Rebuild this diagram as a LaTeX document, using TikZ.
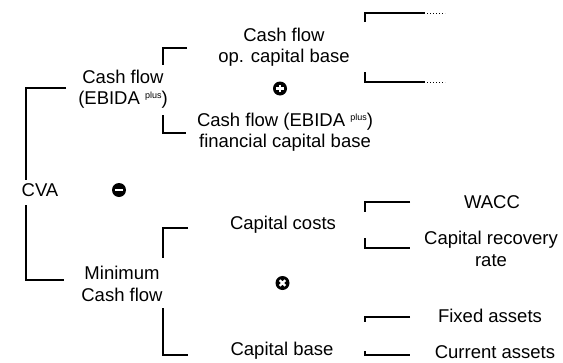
\documentclass[tikz,border=0pt]{standalone}
\usepackage{fontspec}
\setmainfont{Liberation Sans}
\newcommand{\plussup}{\raisebox{6pt}{\fontsize{9}{9}\selectfont plus}}
\begin{document}
\begin{tikzpicture}[x=1pt,y=-1pt,
  lbl/.style={inner sep=0pt, align=center, font=\fontsize{18.5}{21.5}\selectfont},
  brk/.style={line width=1.6pt},
  dots/.style={line width=1pt, dotted},
  opcirc/.style={circle, fill=black, minimum size=14pt, inner sep=0pt}]
\useasboundingbox (0,0) rectangle (563,362);
% texts
\node[lbl] (cva) at (40,190) {CVA};
\node[lbl] (cf) at (123,89) {Cash flow\\(EBIDA \plussup)};
\node[lbl] (cfop) at (284,47) {Cash flow\\op. capital base};
\node[lbl] (cffin) at (285,132) {Cash flow (EBIDA \plussup)\\financial capital base};
\node[lbl] (mincf) at (122,284) {Minimum\\Cash flow};
\node[lbl] (cc) at (283,225) {Capital costs};
\node[lbl] (cb) at (282,351) {Capital base};
\node[lbl] (wacc) at (492,202) {WACC};
\node[lbl] (crr) at (491,249) {Capital recovery\\rate};
\node[lbl] (fa) at (490,316) {Fixed assets};
\node[lbl] (ca) at (495,352) {Current assets};
% operators
\node[opcirc] (minus) at (119,190) {};
\draw[white, line width=2.2pt] ([xshift=-3.8pt]minus.center) -- ([xshift=3.8pt]minus.center);
\node[opcirc] (plus) at (280,88.5) {};
\draw[white, line width=2.2pt] ([xshift=-3.8pt]plus.center) -- ([xshift=3.8pt]plus.center)
  ([yshift=-3.8pt]plus.center) -- ([yshift=3.8pt]plus.center);
\node[opcirc] (times) at (282.5,283) {};
\draw[white, line width=2.2pt] ([shift={(-2.8pt,-2.8pt)}]times.center) -- ([shift={(2.8pt,2.8pt)}]times.center)
  ([shift={(-2.8pt,2.8pt)}]times.center) -- ([shift={(2.8pt,-2.8pt)}]times.center);
% main bracket
\draw[brk] (66,88) -- (26,88) -- (26,180);
\draw[brk] (26,205) -- (26,280) -- (64,280);
% cash flow bracket
\draw[brk] (187,48) -- (163,48) -- (163,65);
\draw[brk] (163,115) -- (163,133) -- (186,133);
% op capital base bracket
\draw[brk] (365,22) -- (365,13) -- (425,13);
\draw[dots] (427,13) -- (445,13);
\draw[brk] (365,72) -- (365,82) -- (425,82);
\draw[dots] (427,82) -- (445,82);
% minimum cash flow bracket
\draw[brk] (188,228) -- (163,228) -- (163,258);
\draw[brk] (163,308) -- (163,355) -- (188,355);
% capital costs bracket
\draw[brk] (410,202) -- (365,202) -- (365,212);
\draw[brk] (365,238) -- (365,248) -- (410,248);
% capital base bracket
\draw[brk] (410,317) -- (365,317) -- (365,322);
\draw[brk] (365,351) -- (365,355) -- (410,355);
\end{tikzpicture}
\end{document}
